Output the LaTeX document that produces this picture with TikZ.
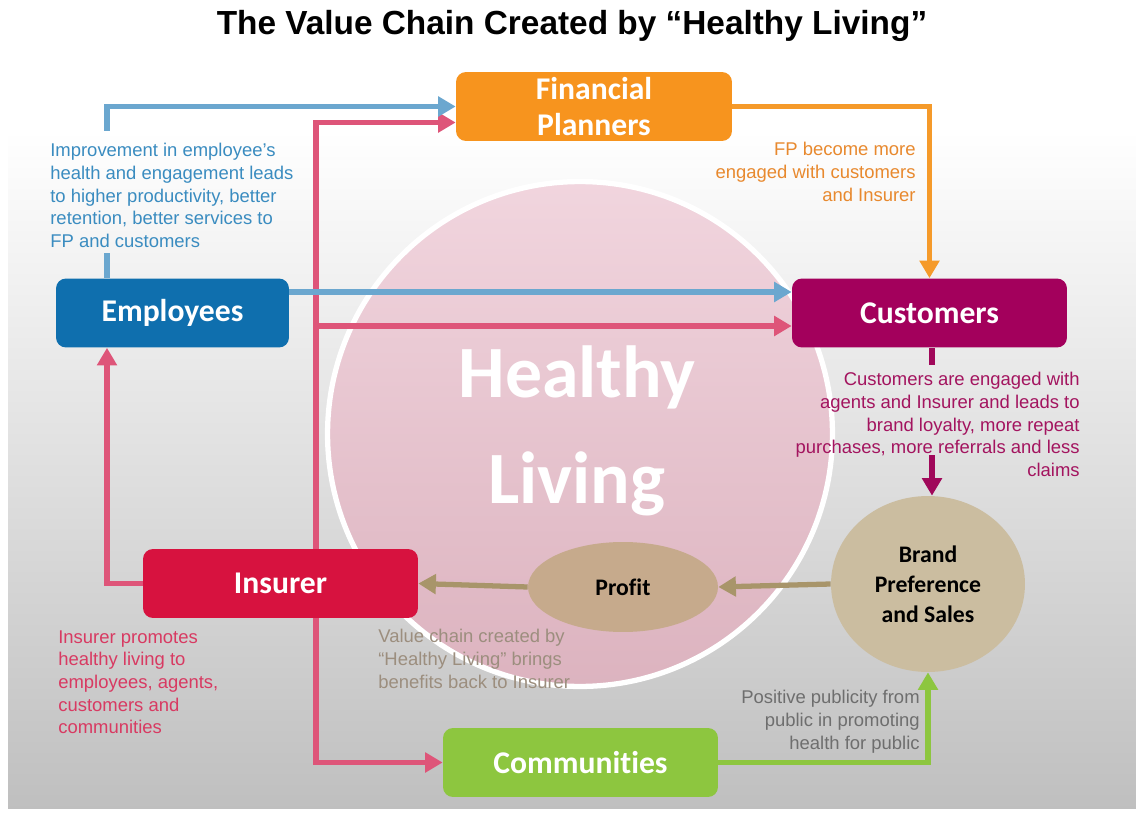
\documentclass[tikz,border=0pt]{standalone}
\usepackage{fontspec}
\setmainfont{Liberation Sans}
\newfontfamily\boxfont[Ligatures=NoCommon]{Carlito}
\usetikzlibrary{positioning,arrows.meta,calc,shapes.geometric}

%colours of the five parties
\definecolor{empblue}{HTML}{0F6FAE}
\definecolor{empline}{HTML}{6BA7CF}
\definecolor{empnote}{HTML}{3A8CC0}
\definecolor{fporange}{HTML}{F7941E}
\definecolor{fpline}{HTML}{F59A2A}
\definecolor{fpnote}{HTML}{E8892E}
\definecolor{custmag}{HTML}{A3005C}
\definecolor{custline}{HTML}{A0085A}
\definecolor{custnote}{HTML}{A3145F}
\definecolor{insred}{HTML}{D7123F}
\definecolor{insline}{HTML}{DE5579}
\definecolor{insnote}{HTML}{D83A62}
\definecolor{commgreen}{HTML}{8DC63F}
\definecolor{commnote}{HTML}{6E6E6E}
\definecolor{profittan}{HTML}{C6AA8C}
\definecolor{brandtan}{HTML}{CBBDA0}
\definecolor{tanline}{HTML}{A8956A}
\definecolor{valnote}{HTML}{9C8E7E}
\definecolor{hltop}{HTML}{F1D5DE}
\definecolor{hlbot}{HTML}{DCB3BF}

\tikzset{
  box/.style={rounded corners=5.7pt, minimum height=1.38cm, inner sep=0pt, text=white,
    align=center, font=\boxfont\bfseries\fontsize{18}{21}\selectfont},
  blob/.style={ellipse, inner sep=0pt, align=center, text=black,
    font=\boxfont\bfseries\fontsize{13.5}{17}\selectfont},
  note/.style={inner sep=0pt, font=\fontsize{10.5}{12.9}\selectfont},
  line/.style={line width=3pt},
  link/.style={line, -{Triangle[length=10pt,width=11pt]}},
}

\begin{document}
\begin{tikzpicture}[x=0.02cm, y=-0.02cm]

%page and grey gradient behind everything
\useasboundingbox (0,0) rectangle (1136,814);
\fill[white] (0,0) rectangle (1136,814);
\shade[top color=white, bottom color=black!25] (8,130) rectangle (1136,808);

%the big circle
\node[circle, minimum size=10.1cm, draw=white, line width=3pt,
      top color=hltop, bottom color=hlbot] (hl) at (580,434) {};
\node[text=white, align=center,
      font=\boxfont\bfseries\fontsize{42}{60.7}\selectfont] (hltext) at (577,431)
  {Healthy\\Living};

%title
\node[font=\bfseries\fontsize{19}{23}\selectfont] (title) at (572,26)
  {The Value Chain Created by “Healthy Living”};

%five boxes
\node[box, fill=fporange, minimum width=5.52cm] (fp) at (594,106.5) {Financial\\Planners};
\node[box, fill=empblue, minimum width=4.66cm] (emp) at (172.5,313) {Employees};
\node[box, fill=custmag, minimum width=5.5cm] (cust) at (929.5,313) {Customers};
\node[box, fill=insred, minimum width=5.5cm] (ins) at (280.5,583.5) {Insurer};
\node[box, fill=commgreen, minimum width=5.5cm] (comm) at (580.5,762.5) {Communities};

%profit and brand
\node[blob, fill=profittan, minimum width=3.8cm, minimum height=1.8cm] (profit) at (623,587) {Profit};
\node[blob, fill=brandtan, minimum width=3.88cm, minimum height=3.52cm] (brand) at (928,584)
  {Brand\\Preference\\and Sales};

%notes along the links
\node[note, text=empnote, anchor=north west, align=left] (empnt) at (50,143)
  {Improvement in employee’s\\health and engagement leads\\to higher productivity, better\\retention, better services to\\FP and customers};
\node[note, text=fpnote, anchor=north east, align=right] (fpnt) at (916,142)
  {FP become more\\engaged with customers\\and Insurer};
\node[note, text=custnote, anchor=north east, align=right] (custnt) at (1080,372)
  {Customers are engaged with\\agents and Insurer and leads to\\brand loyalty, more repeat\\purchases, more referrals and less\\claims};
\node[note, text=insnote, anchor=north west, align=left] (insnt) at (58,630)
  {Insurer promotes\\healthy living to\\employees, agents,\\customers and\\communities};
\node[note, text=valnote, anchor=north west, align=left] (valnt) at (378,629)
  {Value chain created by\\“Healthy Living” brings\\benefits back to Insurer};
\node[note, text=commnote, anchor=north east, align=right] (commnt) at (920,690)
  {Positive publicity from\\public in promoting\\health for public};

%bend points and entry points
\coordinate (ebend) at (107,0);
\coordinate (ibend) at (316,0);
\coordinate (mstart) at (932,455);
\coordinate (fpin) at ($(fp.west)+(0,16)$);
\coordinate (cin) at ($(cust.west)+(0,13)$);
\coordinate (cup) at ($(cust.west)+(0,-21)$);

%pink links out of the insurer
\draw[link, insline] (ins.north -| ibend) |- (fpin);
\draw[link, insline] (cin -| ibend) -- (cin);
\draw[link, insline] (ins.west) -| (emp.south -| ebend);
\draw[link, insline] (ins.south -| ibend) |- (comm.west);

%blue links out of the employees
\draw[line, empline, shorten >=3pt] (emp.north -| ebend) -- (empnt.south -| ebend);
\draw[link, empline, shorten <=7pt] (empnt.north -| ebend) |- (fp.west);
\draw[link, empline] (cup -| emp.east) -- (cup);

%orange link
\draw[link, fpline] (fp.east) -| (cust.north);

%magenta link
\draw[line, custline, shorten >=4pt] (cust.south -| mstart) -- (custnt.north -| mstart);
\draw[link, custline] (mstart) -- (brand.north -| mstart);

%value flowing back
\draw[link, tanline] (brand.west) -- (profit.east);
\draw[link, tanline] (profit.west) -- (ins.east);

%green link
\draw[link, commgreen] (comm.east) -| (brand.south);

\end{tikzpicture}
\end{document}
